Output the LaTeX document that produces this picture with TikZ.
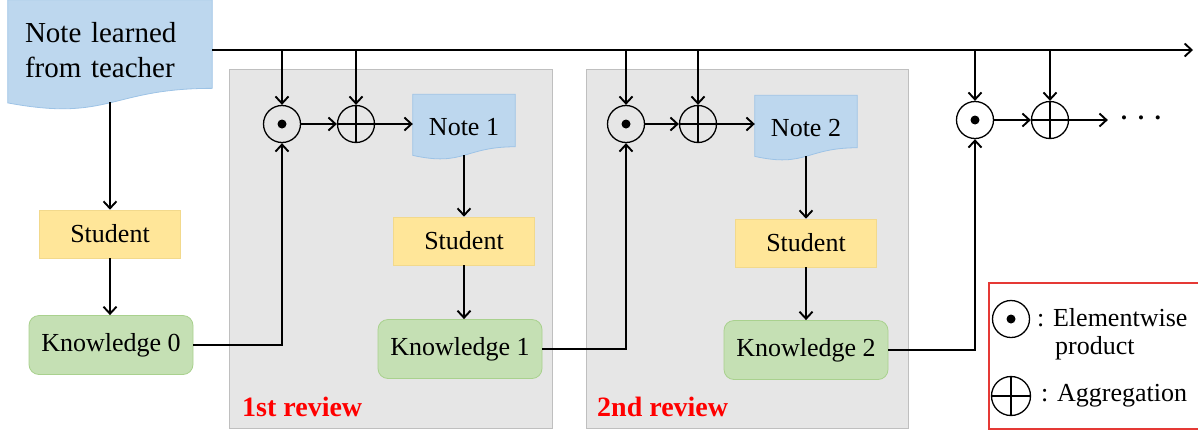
\documentclass[tikz,border=0pt]{standalone}
\usepackage{fontspec}
\setmainfont{Liberation Serif}
\usetikzlibrary{arrows.meta,positioning,calc}

\definecolor{noteblue}{HTML}{BDD7EE}
\definecolor{noteedge}{HTML}{9DC3E6}
\definecolor{stuyellow}{HTML}{FFE699}
\definecolor{stuedge}{HTML}{F2D98C}
\definecolor{knowgreen}{HTML}{C5E0B4}
\definecolor{knowedge}{HTML}{A9D18E}
\definecolor{revgray}{HTML}{E6E6E6}
\definecolor{revedge}{HTML}{BFBFBF}
\definecolor{legendred}{HTML}{E53935}

\pgfdeclarelayer{back}
\pgfdeclarelayer{mid}
\pgfsetlayers{back,mid,main}

\tikzset{
  flow/.style={line width=1.9pt, -{Straight Barb[length=7pt,width=13pt]}},
  notebox/.style={minimum height=65pt, minimum width=102pt, inner sep=0pt, font=\fontsize{26}{31}\selectfont},
  stubox/.style={fill=stuyellow, draw=stuedge, line width=0.6pt, minimum width=141pt, minimum height=48pt, font=\fontsize{26}{31}\selectfont},
  knowbox/.style={fill=knowgreen, draw=knowedge, line width=0.8pt, rounded corners=10pt, minimum width=164pt, minimum height=59pt, font=\fontsize{26}{31}\selectfont},
  prodop/.style={circle, draw, line width=1.3pt, minimum size=37pt, inner sep=0pt,
    path picture={\fill (path picture bounding box.center) circle (4.5pt);}},
  aggop/.style={circle, draw, line width=1.3pt, minimum size=37pt, inner sep=0pt,
    path picture={\draw[line width=1.3pt] (path picture bounding box.north) -- (path picture bounding box.south)
      (path picture bounding box.west) -- (path picture bounding box.east);}},
  reviewbox/.style={fill=revgray, draw=revedge, line width=0.8pt},
  reviewlabel/.style={anchor=west, inner sep=0pt, text=red, font=\fontsize{28}{32}\selectfont\bfseries},
  legtext/.style={anchor=west, inner sep=0pt, font=\fontsize{26}{31}\selectfont},
}

% wavy bottom of a note, drawn behind the node
\newcommand{\notewave}[1]{%
  \begin{pgfonlayer}{mid}
  \path[fill=noteblue, draw=noteedge, line width=0.8pt]
    let \p1=(#1.north west), \p2=(#1.south east) in
    (\x1,\y1) -- (\x2,\y1) -- (\x2,{\y1+0.802*(\y2-\y1)})
    .. controls ({0.5*(\x1+\x2)},{\y1+0.802*(\y2-\y1)}) and ({0.5*(\x1+\x2)},{\y1+1.107*(\y2-\y1)})
    .. (\x1,{\y1+0.934*(\y2-\y1)}) -- cycle;
  \end{pgfonlayer}}

\begin{document}
\begin{tikzpicture}[x=1pt,y=-1pt]
\useasboundingbox (0,0) rectangle (1198,432);

% review areas
\begin{pgfonlayer}{back}
  \draw[reviewbox] (229,69) rectangle (552,428);
  \draw[reviewbox] (586,69) rectangle (908,428);
\end{pgfonlayer}
\node[reviewlabel] (rev1) at (242,407) {1st review};
\node[reviewlabel] (rev2) at (597,407) {2nd review};

% teacher and first student
\node[notebox, minimum width=204pt, minimum height=110pt, text width=170pt, align=left,
  text height=20pt, text depth=45pt, font=\fontsize{29}{35}\selectfont] (teacher) at (110,55) {Note learned\\from teacher};
\notewave{teacher}
\node[stubox] (stu0) at (110,234) {Student};
\node[knowbox] (know0) at (111,345) {Knowledge 0};

% 1st review
\node[prodop] (prod1) at (282,124) {};
\node[aggop] (agg1) at (356,124) {};
\node[notebox] (note1) at (464,127) {Note 1};
\notewave{note1}
\node[stubox] (stu1) at (464,241) {Student};
\node[knowbox] (know1) at (460,349) {Knowledge 1};

% 2nd review
\node[prodop] (prod2) at (626,124) {};
\node[aggop] (agg2) at (698,124) {};
\node[notebox] (note2) at (806,128) {Note 2};
\notewave{note2}
\node[stubox] (stu2) at (806,243) {Student};
\node[knowbox] (know2) at (806,350) {Knowledge 2};

% next review
\node[prodop] (prod3) at (975,120) {};
\node[aggop] (agg3) at (1050,120) {};
\node[inner sep=0pt, font=\fontsize{17}{17}\selectfont] (more) at (1141,120)
  {\textbullet\hspace{11pt}\textbullet\hspace{11pt}\textbullet};

% teacher note goes to every step
\coordinate (busstart) at ($(teacher.north east)!0.455!(teacher.south east)$);
\coordinate (busend) at (1193,50);
\draw[flow] (busstart) -- (busend);
\foreach \op in {prod1,agg1,prod2,agg2,prod3,agg3}
  \draw[flow] (\op.north |- busstart) -- (\op.north);

\draw[flow] ($(teacher.north)!0.93!(teacher.south)$) -- (stu0);
\draw[flow] (stu0) -- (stu0 |- know0.north);
\draw[flow] (know0.east) -| (prod1.south);
\draw[flow] (prod1) -- (agg1);
\draw[flow] (agg1) -- (agg1 -| note1.west);
\draw[flow] ($(note1.north)!0.93!(note1.south)$) -- (stu1);
\draw[flow] (stu1) -- (stu1 |- know1.north);
\draw[flow] (know1.east) -| (prod2.south);
\draw[flow] (prod2) -- (agg2);
\draw[flow] (agg2) -- (agg2 -| note2.west);
\draw[flow] ($(note2.north)!0.93!(note2.south)$) -- (stu2);
\draw[flow] (stu2) -- (stu2 |- know2.north);
\draw[flow] (know2.east) -| (prod3.south);
\draw[flow] (prod3) -- (agg3);
\draw[flow] (agg3) -- ([xshift=-13pt]more.west);

% legend
\draw[legendred, line width=1.2pt] (989,283) rectangle (1206,429);
\node[prodop] (legprod) at (1011,319) {};
\node[aggop, minimum size=39pt] (legagg) at (1011,396) {};
\node[legtext] (legprodtxt) at (1037,318) {: Elementwise};
\node[legtext] (legprodtxt2) at (1055,348) {product};
\node[legtext] (legaggtxt) at (1041,396) {: Aggregation};
\end{tikzpicture}
\end{document}
